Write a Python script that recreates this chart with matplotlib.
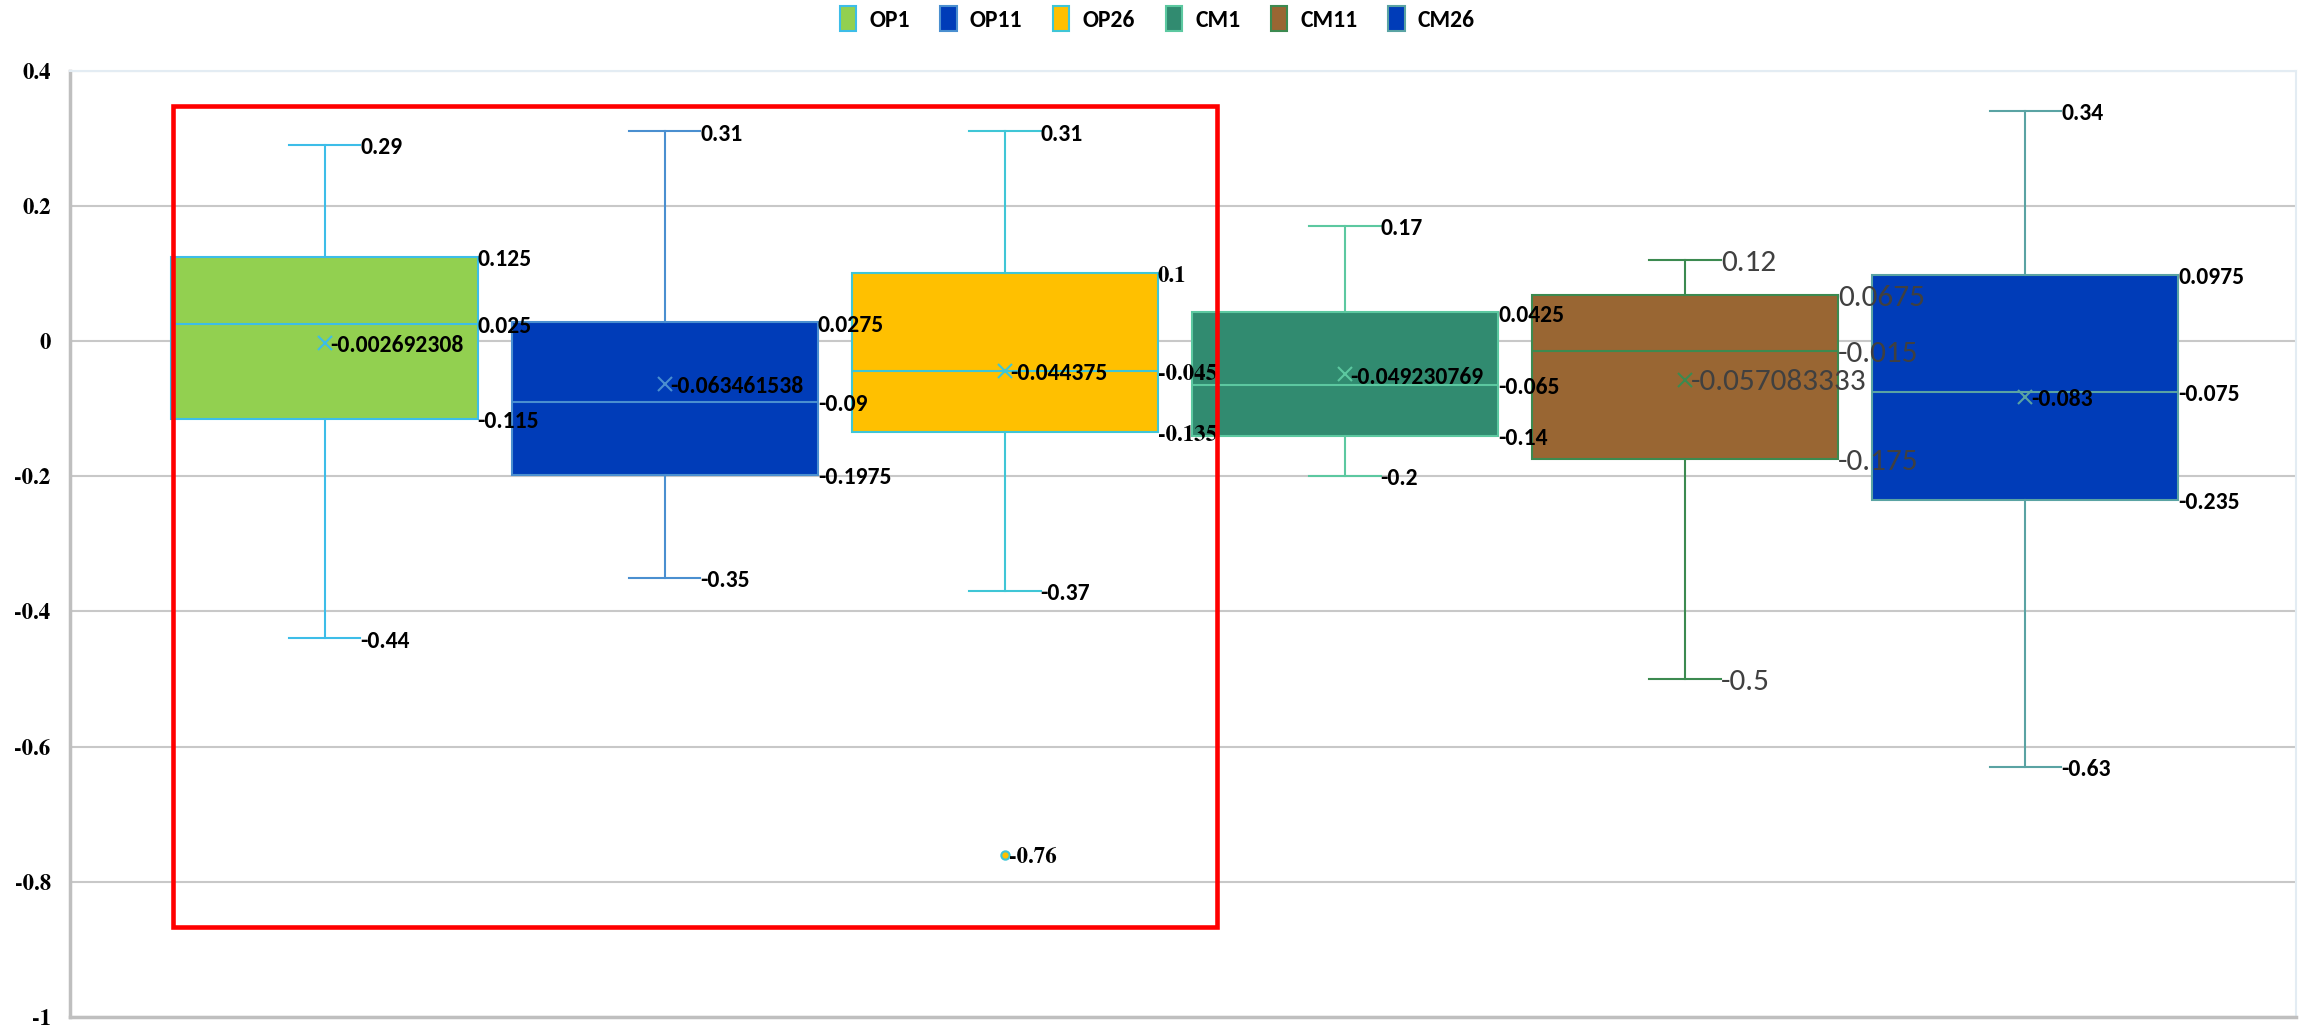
import matplotlib.pyplot as plt
from matplotlib.patches import Rectangle, Patch

# datos de las cajas
series = ['OP1', 'OP11', 'OP26', 'CM1', 'CM11', 'CM26']
maxs = [0.29, 0.31, 0.31, 0.17, 0.12, 0.34]
q3s = [0.125, 0.0275, 0.1, 0.0425, 0.0675, 0.0975]
medians = [0.025, -0.09, -0.045, -0.065, -0.015, -0.075]
q1s = [-0.115, -0.1975, -0.135, -0.14, -0.175, -0.235]
mins = [-0.44, -0.35, -0.37, -0.2, -0.5, -0.63]
means = [-0.002692308, -0.063461538, -0.044375, -0.049230769, -0.057083333, -0.083]
mean_labels = ['-0.002692308', '-0.063461538', '-0.044375', '-0.049230769', '-0.057083333', '-0.083']
outliers = [[], [], [-0.76], [], [], []]
y_ticks = [0.4, 0.2, 0, -0.2, -0.4, -0.6, -0.8, -1]
y_tick_labels = ['0.4', '0.2', '0', '-0.2', '-0.4', '-0.6', '-0.8', '-1']

# estilos
fills = ['#92d050', '#003cb8', '#ffc000', '#318b70', '#996633', '#003cb8']
edges = ['#3dbde8', '#4a8fd0', '#3fc6d6', '#5cc8a0', '#3c8a50', '#5aa3a3']
SANS = ['Carlito', 'DejaVu Sans']
SERIF = ['TeX Gyre Termes', 'Liberation Serif', 'DejaVu Serif']

plt.rcParams['font.family'] = SANS

fig = plt.figure(figsize=(23.05, 10.31), dpi=100)
ax = fig.add_axes([0.0304, 0.0136, 0.9656, 0.9179])

positions = list(range(1, len(series) + 1))
box_w = 0.9
cap_w = 0.21

for i, name in enumerate(series):
    st = [{'med': medians[i], 'q1': q1s[i], 'q3': q3s[i], 'whislo': mins[i],
           'whishi': maxs[i], 'mean': means[i], 'fliers': outliers[i]}]
    ax.bxp(st, positions=[positions[i]], widths=box_w, capwidths=cap_w,
           patch_artist=True, showmeans=True, manage_ticks=False,
           boxprops=dict(facecolor=fills[i], edgecolor=edges[i], linewidth=1.5),
           whiskerprops=dict(color=edges[i], linewidth=1.5),
           capprops=dict(color=edges[i], linewidth=1.5),
           medianprops=dict(color=edges[i], linewidth=1.5),
           meanprops=dict(marker='x', markeredgecolor=edges[i], markersize=10,
                          markeredgewidth=1.5),
           flierprops=dict(marker='o', markerfacecolor=fills[i],
                           markeredgecolor=edges[i], markersize=6,
                           markeredgewidth=1.5),
           zorder=3)

# etiquetas de datos
def label(x, y, txt, serif=False, gray=False, dx=0):
    if gray:
        kw = dict(color='#404040', fontsize=22.5, fontweight='normal', family=SANS)
    elif serif:
        kw = dict(color='black', fontsize=16.5, fontweight='bold', family=SERIF)
    else:
        kw = dict(color='black', fontsize=17, fontweight='bold', family=SANS)
    ax.annotate(txt, (x, y), xytext=(dx, -2), textcoords='offset points',
                ha='left', va='center', zorder=5, **kw)

serif_labels = {(2, 'q3'), (2, 'med'), (2, 'q1'), (2, 'out')}
for i in range(len(series)):
    x = positions[i]
    gray = series[i] == 'CM11'
    s = lambda k: (i, k) in serif_labels
    label(x + cap_w / 2, maxs[i], f'{maxs[i]:g}', gray=gray)
    label(x + cap_w / 2, mins[i], f'{mins[i]:g}', gray=gray)
    label(x + box_w / 2, q3s[i], f'{q3s[i]:g}', serif=s('q3'), gray=gray)
    label(x + box_w / 2, medians[i], f'{medians[i]:g}', serif=s('med'), gray=gray)
    label(x + box_w / 2, q1s[i], f'{q1s[i]:g}', serif=s('q1'), gray=gray)
    label(x, means[i], mean_labels[i], gray=gray, dx=4)
    for o in outliers[i]:
        label(x, o, f'{o:g}', serif=s('out'), dx=3)

# recuadro rojo
ax.add_patch(Rectangle((0.555, -0.867), 3.068, 1.215, fill=False,
                       edgecolor='#ff0000', linewidth=3.3, zorder=6))

ax.set_xlim(0.252, 6.795)
ax.set_ylim(-1, 0.4)
ax.set_xticks([])
ax.set_yticks(y_ticks)
ax.set_yticklabels(y_tick_labels, fontdict={'family': SERIF, 'weight': 'bold', 'size': 16.5})
ax.tick_params(axis='y', length=0, pad=14)
ax.grid(axis='y', color='#c8c8c8', linewidth=1.5, zorder=0)
ax.set_axisbelow(True)
for side in ['left', 'bottom']:
    ax.spines[side].set_color('#bfbfbf')
    ax.spines[side].set_linewidth(2.5)
for side in ['top', 'right']:
    ax.spines[side].set_color('#e3ecf3')
    ax.spines[side].set_linewidth(1.5)

handles = [Patch(facecolor=fills[i], edgecolor=edges[i], linewidth=1.5, label=series[i])
           for i in range(len(series))]
fig.legend(handles=handles, loc='center', bbox_to_anchor=(0.502, 0.982), ncol=6,
           frameon=False, prop={'family': SANS, 'weight': 'bold', 'size': 17},
           handlelength=0.7, handleheight=1.2, handletextpad=0.55, columnspacing=1.3)

fig.savefig('out.png', dpi=100)
